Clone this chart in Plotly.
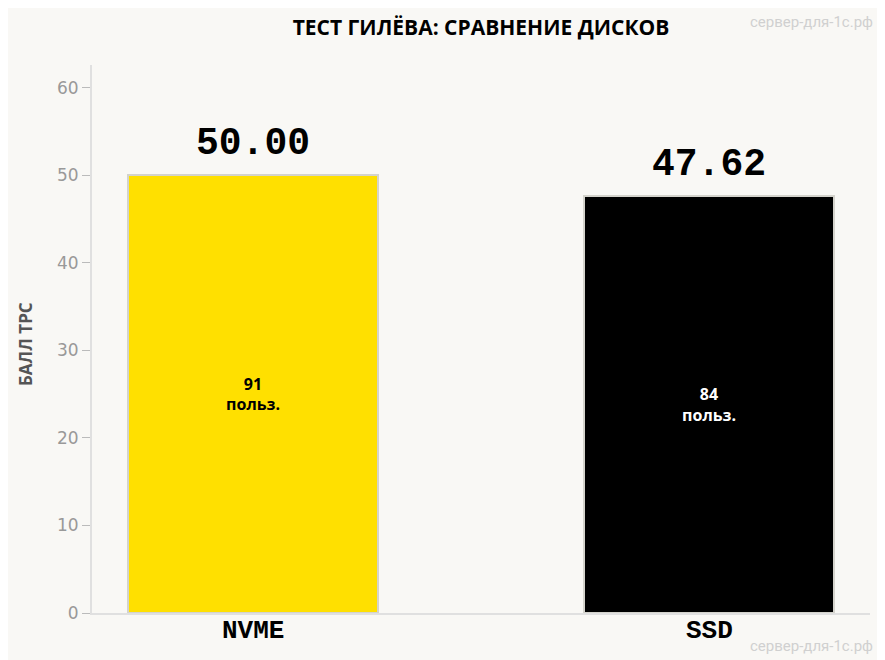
import plotly.graph_objects as go

disks = ["NVME", "SSD"]
scores = [50.00, 47.62]
users = [91, 84]
bar_colors = ["#FFE000", "#000000"]
inner_text_colors = ["#000000", "#ffffff"]

bg = "#f9f8f5"
watermark = "сервер-для-1с.рф"

fig = go.Figure()
fig.add_trace(go.Bar(
    x=disks,
    y=scores,
    width=0.55,
    marker=dict(color=bar_colors, line=dict(color="#d4d3cc", width=2)),
    text=["<b>" + str(u) + "<br>польз.</b>" for u in users],
    textposition="inside",
    insidetextanchor="middle",
    textfont=dict(family="Open Sans", size=16, color=inner_text_colors),
    hoverinfo="skip",
))

# value labels above bars
for d, s in zip(disks, scores):
    fig.add_annotation(x=d, y=s, text="<b>%.2f</b>" % s, showarrow=False,
                       yanchor="bottom", yshift=8,
                       font=dict(family="Liberation Mono", size=38, color="#000"))

# category labels under the axis
for d in disks:
    fig.add_annotation(x=d, y=0, text="<b>" + d + "</b>", showarrow=False,
                       yanchor="top", yshift=-1,
                       font=dict(family="Liberation Mono", size=26, color="#000"))

# watermarks
fig.add_annotation(xref="paper", yref="paper", x=1.0, y=1.0, xshift=5, yshift=43,
                   xanchor="right", yanchor="middle", text=watermark, showarrow=False,
                   font=dict(family="Roboto", size=15, color="#d0d0d0"))
fig.add_annotation(xref="paper", yref="paper", x=1.0, y=0, xshift=5, yshift=-33,
                   xanchor="right", yanchor="middle", text=watermark, showarrow=False,
                   font=dict(family="Roboto", size=15, color="#d0d0d0"))

# y axis title
fig.add_annotation(xref="paper", yref="paper", x=0, y=0.5, xshift=-67, yshift=-5,
                   xanchor="center", yanchor="middle", textangle=-90,
                   text="<b>БАЛЛ TPC</b>", showarrow=False,
                   font=dict(family="Open Sans", size=17, color="#555555"))

fig.update_layout(
    width=885, height=660,
    margin=dict(l=84, r=23, t=57, b=55),
    paper_bgcolor=bg, plot_bgcolor=bg,
    showlegend=False,
    bargap=0,
    title=dict(text="<b>ТЕСТ ГИЛЁВА: СРАВНЕНИЕ ДИСКОВ</b>", x=0.5, xref="paper", y=0.97,
               yanchor="middle", font=dict(family="Open Sans", size=21, color="#000")),
    xaxis=dict(range=[-0.353, 1.353], showline=True, linecolor="#e0e0e0", linewidth=2,
               ticks="", showgrid=False, automargin=False, showticklabels=False),
    yaxis=dict(range=[0, 62.6], showline=True, linecolor="#e0e0e0", linewidth=2,
               ticks="outside", ticklen=8, tickcolor="#bbbbbb", tickwidth=1, dtick=10,
               showgrid=False, zeroline=False, automargin=False,
               tickfont=dict(family="DejaVu Sans", size=17, color="#999999")),
)

fig.write_html("out.html")
